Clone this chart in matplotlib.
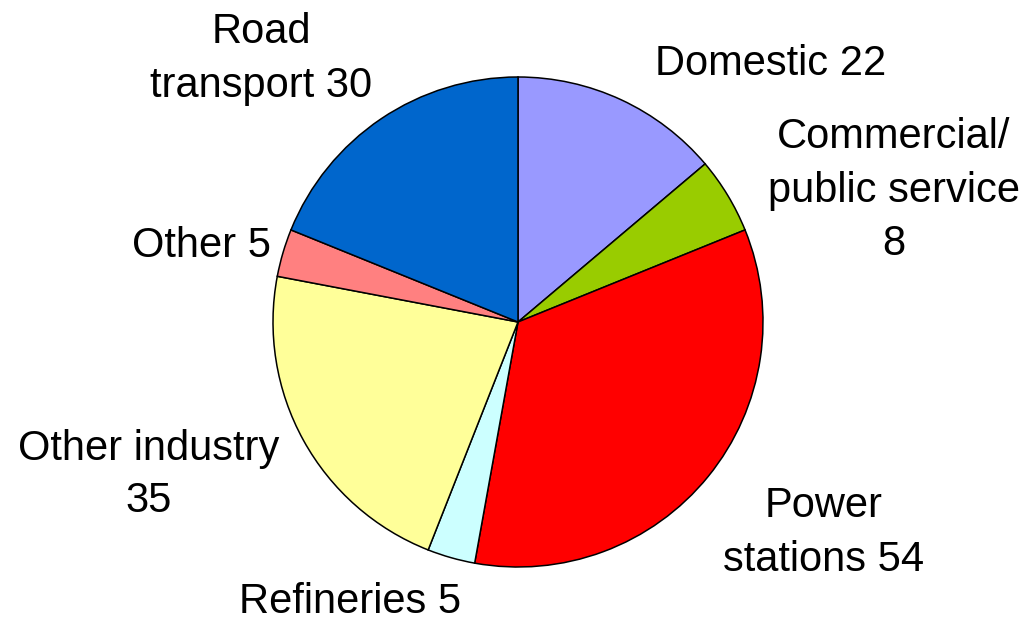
import matplotlib.pyplot as plt

# emissions by source
sectors = ["Domestic", "Commercial/public service", "Power stations", "Refineries",
           "Other industry", "Other", "Road transport"]
values = [22, 8, 54, 5, 35, 5, 30]
colors = ["#9999FF", "#99CC00", "#FF0000", "#CCFFFF", "#FFFF99", "#FF8080", "#0066CC"]

# label lines: (lines, x centre, baselines from top) in pixels
label_lines = [
    (["Domestic 22"], 771, [75]),
    (["Commercial/", "public service", "8"], 894, [148, 202, 255]),
    (["Power", "stations 54"], 824, [517, 571]),
    (["Refineries 5"], 350, [613]),
    (["Other industry", "35"], 149, [460, 512]),
    (["Other 5"], 201, [257]),
    (["Road", "transport 30"], 261, [43, 97]),
]

W, H = 1023, 618
plt.rcParams["font.family"] = ["Liberation Sans", "DejaVu Sans"]
fig = plt.figure(figsize=(W / 100, H / 100), dpi=100)
ax = fig.add_axes([0, 0, 1, 1])
ax.set_xlim(0, W)
ax.set_ylim(0, H)
ax.set_aspect("equal")
ax.axis("off")

ax.pie(values, colors=colors, startangle=90, counterclock=False,
       center=(518, H - 322), radius=245, frame=True,
       wedgeprops=dict(edgecolor="black", linewidth=1.1))
ax.set_xlim(0, W)
ax.set_ylim(0, H)
ax.axis("off")

for lines, xc, baselines in label_lines:
    for line, yb in zip(lines, baselines):
        ax.text(xc, H - yb, line, ha="center", va="baseline", fontsize=30, color="black")

fig.savefig("out.png", dpi=100)
